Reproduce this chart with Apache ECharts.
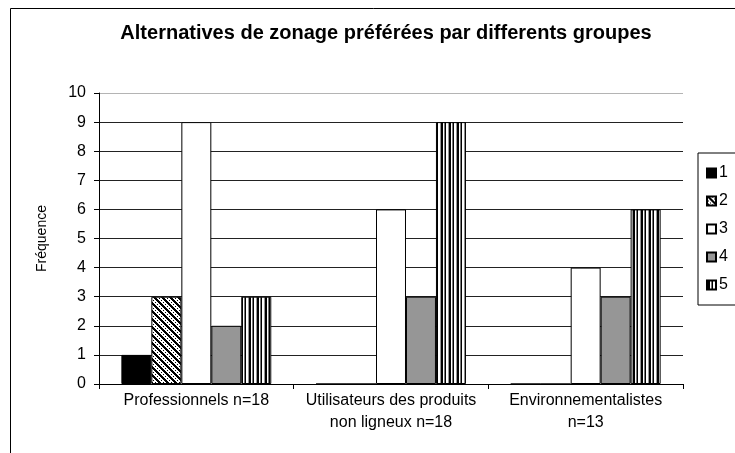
<!DOCTYPE html>
<html>
<head>
<meta charset="utf-8">
<script src="https://cdn.jsdelivr.net/npm/echarts@6/dist/echarts.min.js"></script>
<style>
html,body{margin:0;padding:0;background:#fff;}
#chart{width:735px;height:453px;}
</style>
</head>
<body>
<div id="chart"></div>
<script>
const titleText = 'Alternatives de zonage préférées par differents groupes';
const yAxisName = 'Fréquence';
const categories = ['Professionnels n=18', 'Utilisateurs des produits\nnon ligneux n=18', 'Environnementalistes\nn=13'];
const seriesNames = ['1', '2', '3', '4', '5'];
const values1 = [1, 0, 0];
const values2 = [3, 0, 0];
const values3 = [9, 6, 4];
const values4 = [2, 3, 3];
const values5 = [3, 9, 6];
const yMin = 0, yMax = 10, yStep = 1;

const FONT = '"Liberation Sans", Arial, sans-serif';

function makePattern(w, h, fn) {
  const c = document.createElement('canvas');
  c.width = w; c.height = h;
  const ctx = c.getContext('2d');
  const img = ctx.createImageData(w, h);
  for (let y = 0; y < h; y++) {
    for (let x = 0; x < w; x++) {
      const v = fn(x, y);
      const i = (y * w + x) * 4;
      img.data[i] = v; img.data[i + 1] = v; img.data[i + 2] = v; img.data[i + 3] = 255;
    }
  }
  ctx.putImageData(img, 0, 0);
  return c;
}
const diagCanvas = makePattern(8, 8, (x, y) => {
  const d = ((x - y) % 8 + 8) % 8;
  if (d < 3) return 0;
  if (d === 5 && ((x + y) % 4 === 1)) return 0;
  return 255;
});
const vertCols = [150, 0, 0, 255, 120, 0, 255, 255];
const vertCanvas = makePattern(8, 8, (x, y) => vertCols[x]);

const fills = [
  '#000000',
  { image: diagCanvas, repeat: 'repeat' },
  '#ffffff',
  '#969696',
  { image: vertCanvas, repeat: 'repeat' }
];
const allValues = [values1, values2, values3, values4, values5];

const chart = echarts.init(document.getElementById('chart'), null, { renderer: 'canvas' });

const splitColors = [];
for (let v = yMin; v <= yMax; v += yStep) splitColors.push(v === yMax ? '#b4b4b4' : '#222222');

const option = {
  backgroundColor: '#ffffff',
  animation: false,
  textStyle: { fontFamily: FONT },
  title: {
    text: titleText,
    left: 386,
    textAlign: 'center',
    top: 23,
    padding: 0,
    textStyle: { fontFamily: FONT, fontSize: 20, fontWeight: 'bold', color: '#000' }
  },
  graphic: [{
    type: 'rect',
    shape: { x: 10.5, y: 8.5, width: 800, height: 600 },
    style: { fill: null, stroke: '#000', lineWidth: 1 },
    silent: true,
    z: -1
  }],
  legend: {
    orient: 'vertical',
    left: 698,
    top: 153,
    padding: [12, 20, 12, 8],
    itemWidth: 9,
    itemHeight: 9,
    itemGap: 12,
    borderColor: '#000',
    borderWidth: 1,
    icon: 'rect',
    data: seriesNames,
    textStyle: { fontFamily: FONT, fontSize: 16, color: '#000', padding: [0, 0, 0, -2] }
  },
  grid: { left: 99, right: 52, top: 93, bottom: 69, containLabel: false },
  xAxis: {
    type: 'category',
    data: categories,
    axisLine: { lineStyle: { color: '#000', width: 1 } },
    axisTick: { show: true, alignWithLabel: false, length: 5, lineStyle: { color: '#000' } },
    axisLabel: { color: '#000', fontSize: 16, fontFamily: FONT, margin: 6, lineHeight: 22, interval: 0 },
    splitLine: { show: false }
  },
  yAxis: {
    type: 'value',
    min: yMin,
    max: yMax,
    interval: yStep,
    name: yAxisName,
    nameLocation: 'middle',
    nameRotate: 90,
    nameGap: 50,
    nameTextStyle: { fontFamily: FONT, fontSize: 14, color: '#000' },
    axisLine: { show: true, lineStyle: { color: '#000', width: 1 } },
    axisTick: { show: true, length: 5, lineStyle: { color: '#000' } },
    axisLabel: { color: '#000', fontSize: 16, fontFamily: FONT, margin: 13 },
    splitLine: { show: true, lineStyle: { color: splitColors, width: 1 } }
  },
  series: seriesNames.map((name, i) => ({
    name: name,
    type: 'bar',
    data: allValues[i],
    barGap: '0%',
    barCategoryGap: '23%',
    itemStyle: { color: fills[i], borderColor: '#000', borderWidth: 1 },
    emphasis: { disabled: true }
  }))
};
chart.setOption(option);
</script>
</body>
</html>
